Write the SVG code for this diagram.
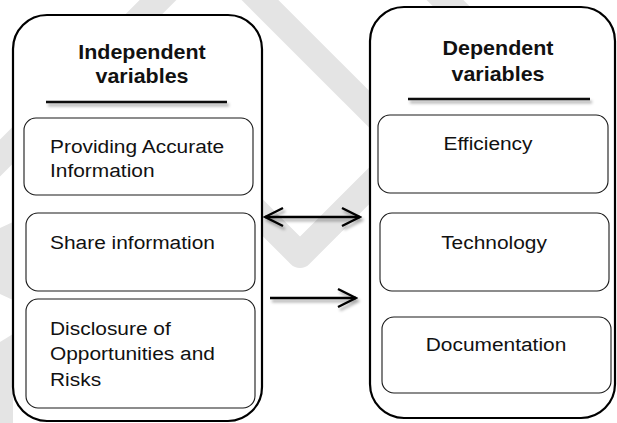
<svg xmlns="http://www.w3.org/2000/svg" width="617" height="423" viewBox="0 0 617 423">
  <style>
    .wm { fill: none; stroke: #e4e4e4; stroke-width: 26; stroke-linejoin: round; stroke-linecap: butt; }
    .wmf { fill: #e4e4e4; stroke: none; }
    .outer { fill: #ffffff; stroke: #000000; stroke-width: 2.2; }
    .inner { fill: #ffffff; stroke: #1a1a1a; stroke-width: 1.1; }
    .rule { stroke: #111111; stroke-width: 2.6; }
    .head { font-family: "Liberation Sans", Arial, sans-serif; font-size: 19.5px; font-weight: bold; fill: #111111; text-anchor: middle; }
    .lbl { font-family: "Liberation Sans", Arial, sans-serif; font-size: 19px; fill: #111111; }
    .mid { text-anchor: middle; }
    .conn { stroke: #000000; stroke-width: 2.4; fill: none; }
  </style>
  <defs>
    <filter id="soft" filterUnits="userSpaceOnUse" x="0" y="0" width="617" height="423">
      <feDropShadow dx="2" dy="3" stdDeviation="1.6" flood-color="#000000" flood-opacity="0.35"/>
    </filter>
    <marker id="open" viewBox="-20 -11 22 22" refX="0" refY="0" markerWidth="22" markerHeight="22" markerUnits="userSpaceOnUse" orient="auto-start-reverse">
      <path d="M -18 -9 L 0 0 L -18 9" fill="none" stroke="#000000" stroke-width="2.4" stroke-linejoin="miter"/>
    </marker>
  </defs>

  <rect width="617" height="423" fill="#ffffff"/>

  <!-- faint background bands -->
  <g id="backdrop">
    <line class="wm" x1="185" y1="-27" x2="-30" y2="188"/>
    <line class="wm" x1="248" y1="-12" x2="392" y2="132"/>
    <line class="wm" x1="415" y1="-30" x2="480" y2="35"/>
    <polyline class="wm" points="230,185 300,255 390,165"/>
    <polygon class="wmf" points="0,228 13,222 13,300 0,294"/>
    <polygon class="wmf" points="0,342 13,334 13,423 0,423"/>
  </g>

  <!-- left column: independent variables -->
  <g id="independent">
    <rect class="outer" x="13" y="15" width="249" height="406" rx="34" ry="34"/>
    <text class="head" transform="translate(142 59) scale(1.1 1)">Independent</text>
    <text class="head" transform="translate(142 83) scale(1.1 1)">variables</text>
    <g filter="url(#soft)">
      <line class="rule" x1="46" y1="102" x2="227" y2="102"/>
    </g>
  </g>
  <g id="accurate-info">
    <rect class="inner" x="24" y="118" width="229" height="77" rx="12" ry="12"/>
    <text class="lbl" transform="translate(50 152.5) scale(1.1 1)">Providing Accurate</text>
    <text class="lbl" transform="translate(50 177) scale(1.1 1)">Information</text>
  </g>
  <g id="share-info">
    <rect class="inner" x="26" y="213" width="229" height="78" rx="12" ry="12"/>
    <text class="lbl" transform="translate(50 249) scale(1.1 1)">Share information</text>
  </g>
  <g id="disclosure">
    <rect class="inner" x="26" y="299" width="229" height="109" rx="12" ry="12"/>
    <text class="lbl" transform="translate(50 335) scale(1.1 1)">Disclosure of</text>
    <text class="lbl" transform="translate(50 360) scale(1.1 1)">Opportunities and</text>
    <text class="lbl" transform="translate(50 386) scale(1.1 1)">Risks</text>
  </g>

  <!-- right column: dependent variables -->
  <g id="dependent">
    <rect class="outer" x="370" y="7" width="245" height="411" rx="34" ry="34"/>
    <text class="head" transform="translate(498 55) scale(1.1 1)">Dependent</text>
    <text class="head" transform="translate(498 81) scale(1.1 1)">variables</text>
    <g filter="url(#soft)">
      <line class="rule" x1="408" y1="99" x2="590" y2="99"/>
    </g>
  </g>
  <g id="efficiency">
    <rect class="inner" x="378" y="115" width="230" height="78" rx="12" ry="12"/>
    <text class="lbl mid" transform="translate(488 150) scale(1.1 1)">Efficiency</text>
  </g>
  <g id="technology">
    <rect class="inner" x="380" y="213" width="229" height="78" rx="12" ry="12"/>
    <text class="lbl mid" transform="translate(494 249) scale(1.1 1)">Technology</text>
  </g>
  <g id="documentation">
    <rect class="inner" x="382" y="317" width="229" height="76" rx="12" ry="12"/>
    <text class="lbl mid" transform="translate(496 351) scale(1.1 1)">Documentation</text>
  </g>

  <!-- connectors between the columns -->
  <g id="connectors" filter="url(#soft)">
    <line class="conn" x1="265" y1="217" x2="360" y2="217" marker-start="url(#open)" marker-end="url(#open)"/>
    <line class="conn" x1="270" y1="298" x2="356" y2="298" marker-end="url(#open)"/>
  </g>
</svg>
